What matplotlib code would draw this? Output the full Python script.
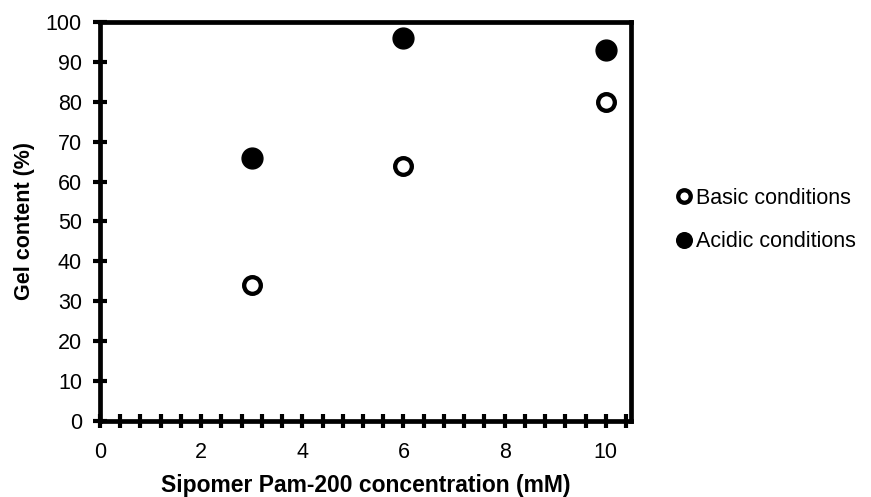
import matplotlib
matplotlib.use("Agg")
import matplotlib.pyplot as plt
from matplotlib.ticker import MultipleLocator

plt.rcParams['font.family'] = ['Liberation Sans', 'DejaVu Sans']

conc = [3, 6, 10]
basic = [34, 64, 80]
acidic = [66, 96, 93]

FS = 15.5

fig = plt.figure(figsize=(8.71, 4.97), dpi=100)
ax = fig.add_axes([0.1148, 0.153, 0.6097, 0.8027])

ax.plot(conc, basic, 'o', ms=12, mfc='white', mec='black', mew=3.1, ls='none',
        label='Basic conditions', clip_on=False, zorder=3)
ax.plot(conc, acidic, 'o', ms=15, mfc='black', mec='black', ls='none',
        label='Acidic conditions', clip_on=False, zorder=3)

ax.set_xlim(0, 10.5)
ax.set_ylim(0, 100)
ax.xaxis.set_major_locator(MultipleLocator(2))
ax.xaxis.set_minor_locator(MultipleLocator(0.4))
ax.yaxis.set_major_locator(MultipleLocator(10))
for s in ax.spines.values():
    s.set_linewidth(3.4)
ax.tick_params(axis='both', which='both', direction='inout', width=3, labelsize=FS)
ax.tick_params(axis='both', which='major', length=10)
ax.tick_params(axis='x', which='minor', length=10)
ax.tick_params(axis='x', pad=10)
ax.tick_params(axis='y', pad=8)
ax.tick_params(top=False, right=False)

ax.set_xlabel('Sipomer Pam-200 concentration (mM)', fontsize=16.5, fontweight='bold', labelpad=8)
ax.set_ylabel('Gel content (%)', fontsize=FS, fontweight='bold', labelpad=8)

leg = ax.legend(loc='center left', bbox_to_anchor=(1.041, 0.504), frameon=False,
                fontsize=FS, handletextpad=0.0, labelspacing=1.05, markerscale=0.75,
                handlelength=1.1)

fig.savefig('out.png', dpi=100)
